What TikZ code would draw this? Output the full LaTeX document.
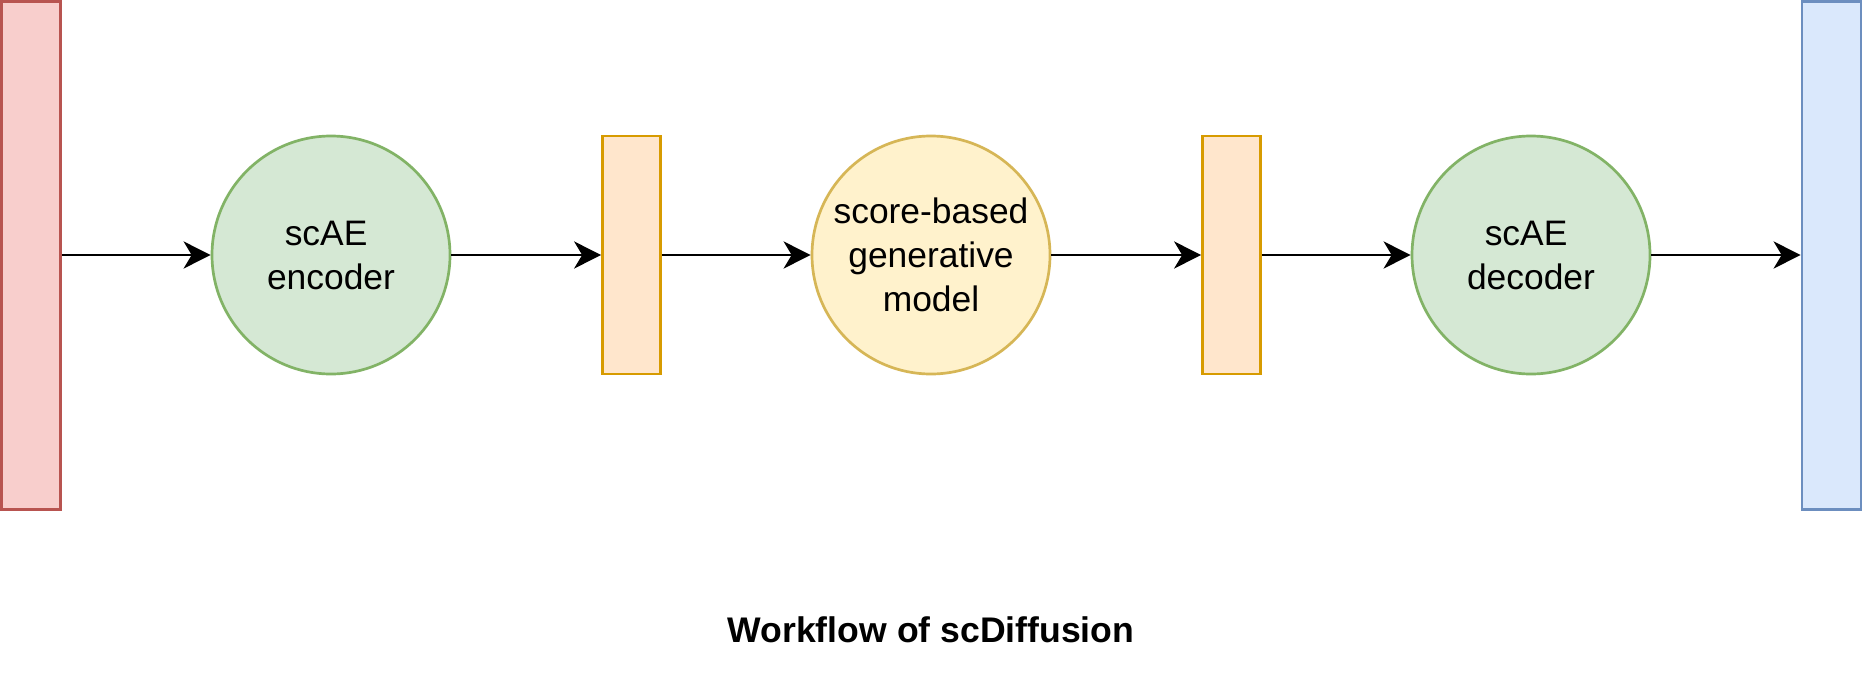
\documentclass[tikz,border=0pt]{standalone}
\usepackage{fontspec}
\setmainfont{Liberation Sans}
\usetikzlibrary{arrows.meta}
\definecolor{redfill}{HTML}{F8CECC}\definecolor{redline}{HTML}{B85450}
\definecolor{greenfill}{HTML}{D5E8D4}\definecolor{greenline}{HTML}{82B366}
\definecolor{orangefill}{HTML}{FFE6CC}\definecolor{orangeline}{HTML}{D79B00}
\definecolor{yellowfill}{HTML}{FFF2CC}\definecolor{yellowline}{HTML}{D6B656}
\definecolor{bluefill}{HTML}{DAE8FC}\definecolor{blueline}{HTML}{6C8EBF}
\tikzset{
  tallbar/.style={rectangle, inner sep=0pt, minimum width=59pt, minimum height=508pt, line width=2.7pt},
  latentbar/.style={rectangle, inner sep=0pt, minimum width=58pt, minimum height=238pt, line width=2.7pt, draw=orangeline, fill=orangefill},
  blob/.style={circle, inner sep=0pt, minimum size=238pt, line width=2.7pt, align=center, font=\fontsize{35.4}{44}\selectfont},
  arr/.style={line width=2.7pt, -{Stealth[length=27pt, width=27pt, inset=8pt]}}
}
\begin{document}
\begin{tikzpicture}[x=1pt,y=-1pt]
\useasboundingbox[fill=white] (0,0) rectangle (1863,693);
\node[tallbar, draw=redline, fill=redfill] (inp) at (31,255.5) {};
\node[blob, draw=greenline, fill=greenfill] (enc) at (331,255) {scAE\hspace*{0.278em}\\encoder};
\node[latentbar] (z1) at (631.5,255) {};
\node[blob, draw=yellowline, fill=yellowfill] (sgm) at (931,255) {score-based\\generative\hspace*{0.278em}\\model};
\node[latentbar] (z2) at (1231.5,255) {};
\node[blob, draw=greenline, fill=greenfill] (dec) at (1531,255) {scAE\hspace*{0.278em}\\decoder};
\node[tallbar, draw=blueline, fill=bluefill] (out) at (1831.5,255.5) {};
\node[anchor=base, font=\fontsize{35.6}{43}\selectfont\bfseries] (title) at (931,642) {Workflow of scDiffusion};
\draw[arr] (inp.east |- enc.west) -- (enc.west);
\draw[arr] (enc.east) -- (z1.west);
\draw[arr] (z1.east) -- (sgm.west);
\draw[arr] (sgm.east) -- (z2.west);
\draw[arr] (z2.east) -- (dec.west);
\draw[arr] (dec.east) -- (out.west |- dec.east);
\end{tikzpicture}
\end{document}
